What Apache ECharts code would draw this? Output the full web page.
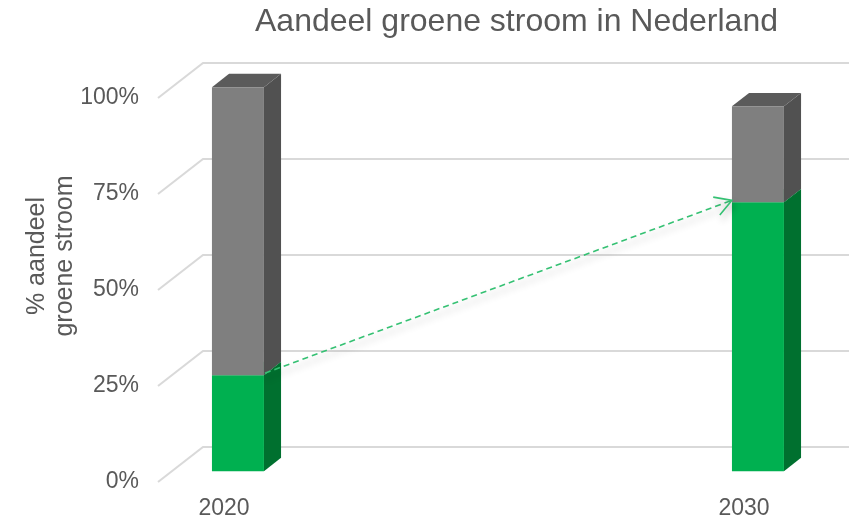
<!DOCTYPE html>
<html>
<head>
<meta charset="utf-8">
<title>Aandeel groene stroom in Nederland</title>
<script src="https://cdn.jsdelivr.net/npm/echarts@6/dist/echarts.min.js"></script>
<style>
  html, body { margin: 0; padding: 0; background: #ffffff; }
  #chart { width: 849px; height: 520px; }
</style>
</head>
<body>
<div id="chart"></div>
<script>
// Data
const categories = ['2020', '2030'];
const groenAandeel = [25, 70];   // % groene stroom
const overigAandeel = [75, 25];  // % overige stroom
const yTicks = [0, 25, 50, 75, 100];

// 3D look: floor depth vector and bar placement within that depth
const DEPTH_X = 45, DEPTH_Y = -35;
const FRONT = 0.31, BACK = 0.69;
const BAR_W = 52;
const AXIS_OFFSET = 66;
const FONT = '"Liberation Sans", Arial, sans-serif';
const TEXT_COLOR = '#595959';

const chart = echarts.init(document.getElementById('chart'), null, { renderer: 'canvas' });

function barRenderer(frontColor, sideColor, topColor) {
  return function (params, api) {
    const i = api.value(0), lo = api.value(1), hi = api.value(2);
    const b = api.coord([i, lo]);
    const t = api.coord([i, hi]);
    const fx = DEPTH_X * FRONT, fy = DEPTH_Y * FRONT;
    const dx = DEPTH_X * (BACK - FRONT), dy = DEPTH_Y * (BACK - FRONT);
    const half = BAR_W / 2;
    const xl = b[0] + fx - half, xr = b[0] + fx + half;
    const yb = b[1] + fy, yt = t[1] + fy;
    return {
      type: 'group',
      children: [
        { type: 'polygon', shape: { points: [[xr, yt], [xr + dx, yt + dy], [xr + dx, yb + dy], [xr, yb]] }, style: { fill: sideColor } },
        { type: 'polygon', shape: { points: [[xl, yt], [xr, yt], [xr + dx, yt + dy], [xl + dx, yt + dy]] }, style: { fill: topColor } },
        { type: 'rect', shape: { x: xl, y: yt, width: BAR_W, height: yb - yt }, style: { fill: frontColor } }
      ]
    };
  };
}

const groenData = categories.map((c, i) => [i, 0, groenAandeel[i]]);
const overigData = categories.map((c, i) => [i, groenAandeel[i], groenAandeel[i] + overigAandeel[i]]);
const gridData = yTicks.map(v => [0, v]);
const arrowData = [[0, groenAandeel[0], 1, groenAandeel[1]]];

const option = {
  backgroundColor: '#ffffff',
  animation: false,
  title: {
    text: 'Aandeel groene stroom in Nederland',
    left: 250,
    top: 1,
    textStyle: { color: TEXT_COLOR, fontSize: 32, fontWeight: 'normal', fontFamily: FONT }
  },
  grid: { left: 224, right: 105, top: 98, bottom: 38, containLabel: false },
  xAxis: {
    type: 'category',
    data: categories,
    boundaryGap: false,
    axisLine: { show: false },
    axisTick: { show: false },
    splitLine: { show: false },
    axisLabel: { color: TEXT_COLOR, fontSize: 23, fontFamily: FONT, margin: 15 }
  },
  yAxis: {
    type: 'value',
    min: 0,
    max: 100,
    interval: 25,
    offset: AXIS_OFFSET,
    axisLine: { show: false },
    axisTick: { show: false },
    splitLine: { show: false },
    axisLabel: { color: TEXT_COLOR, fontSize: 23, fontFamily: FONT, margin: 19, formatter: '{value}%' }
  },
  graphic: [{
    type: 'text',
    x: 51,
    y: 256,
    rotation: Math.PI / 2,
    style: {
      text: '% aandeel\ngroene stroom',
      fill: TEXT_COLOR,
      fontSize: 25,
      lineHeight: 28,
      fontFamily: FONT,
      align: 'center',
      verticalAlign: 'middle'
    }
  }],
  series: [
    {
      // perspective gridlines: floor-front edge up to the back wall
      type: 'custom',
      name: 'grid',
      z: 1,
      clip: false,
      silent: true,
      encode: { x: 0, y: 1 },
      data: gridData,
      renderItem: function (params, api) {
        const p = api.coord([0, api.value(1)]);
        const lx = params.coordSys.x - AXIS_OFFSET;
        return {
          type: 'polyline',
          shape: { points: [[lx, p[1]], [lx + DEPTH_X, p[1] + DEPTH_Y], [api.getWidth(), p[1] + DEPTH_Y]] },
          style: { stroke: '#d9d9d9', lineWidth: 2, fill: null }
        };
      }
    },
    {
      type: 'custom',
      name: 'Groene stroom',
      z: 2,
      clip: false,
      encode: { x: 0, y: [1, 2] },
      data: groenData,
      renderItem: barRenderer('#00b050', '#00702f', '#00c85a')
    },
    {
      type: 'custom',
      name: 'Overige stroom',
      z: 3,
      clip: false,
      encode: { x: 0, y: [1, 2] },
      data: overigData,
      renderItem: barRenderer('#7f7f7f', '#515151', '#5b5b5b')
    },
    {
      // dashed growth arrow between the green tops
      type: 'custom',
      name: 'groei',
      z: 4,
      clip: false,
      silent: true,
      encode: { x: [0, 2], y: [1, 3] },
      data: arrowData,
      renderItem: function (params, api) {
        const a = api.coord([api.value(0), api.value(1)]);
        const b = api.coord([api.value(2), api.value(3)]);
        const fx = DEPTH_X * FRONT, fy = DEPTH_Y * FRONT;
        const s = [a[0] + fx + BAR_W / 2 + 1, a[1] + fy - 2];
        const e = [b[0] + fx - BAR_W / 2, b[1] + fy - 2];
        const ang = Math.atan2(e[1] - s[1], e[0] - s[0]);
        const L = 19, spread = Math.PI / 6;
        const h1 = [e[0] - L * Math.cos(ang - spread), e[1] - L * Math.sin(ang - spread)];
        const h2 = [e[0] - L * Math.cos(ang + spread), e[1] - L * Math.sin(ang + spread)];
        const shadow = { shadowBlur: 7, shadowColor: 'rgba(0,0,0,0.3)', shadowOffsetX: 2, shadowOffsetY: 5 };
        return {
          type: 'group',
          children: [
            { type: 'line', shape: { x1: s[0], y1: s[1], x2: e[0], y2: e[1] },
              style: Object.assign({ stroke: '#35c173', lineWidth: 1.6, lineDash: [6, 4] }, shadow) },
            { type: 'polyline', shape: { points: [h1, e, h2] },
              style: Object.assign({ stroke: '#35c173', lineWidth: 1.6, fill: null }, shadow) }
          ]
        };
      }
    }
  ]
};

chart.setOption(option);
</script>
</body>
</html>
